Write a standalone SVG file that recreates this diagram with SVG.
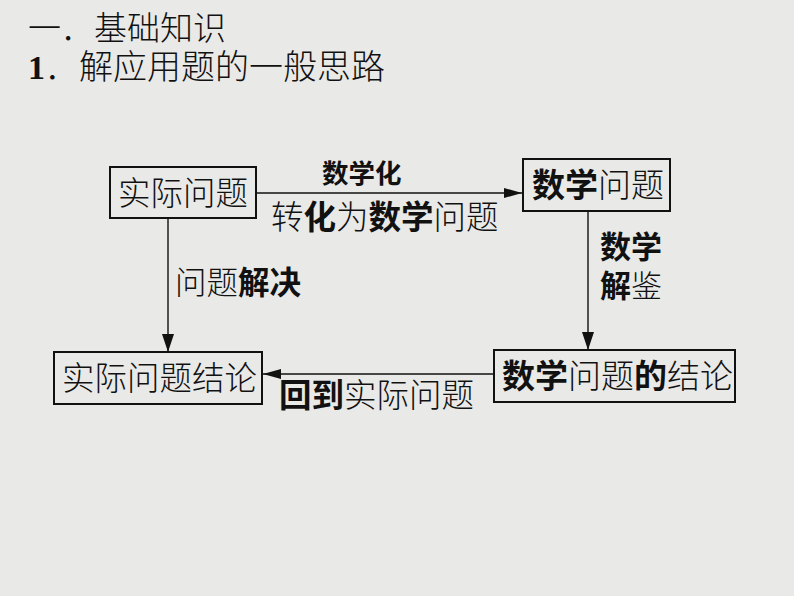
<svg xmlns="http://www.w3.org/2000/svg" width="794" height="596" viewBox="0 0 794 596">
<defs>
<style>
.t{font-family:"Noto Sans CJK SC","Noto Sans",sans-serif;fill:#111;font-weight:300}
.b{font-weight:700}
.box{fill:none;stroke:#111;stroke-width:2}
.ln{stroke:#111;stroke-width:1.4;fill:none}
</style>
<marker id="ah" markerWidth="18" markerHeight="10" refX="18" refY="5" orient="auto" markerUnits="userSpaceOnUse">
<path d="M0,0 L18,5 L0,10 Z" fill="#111"/>
</marker>
<marker id="av" markerWidth="18" markerHeight="12" refX="18" refY="6" orient="auto" markerUnits="userSpaceOnUse">
<path d="M0,0 L18,6 L0,12 Z" fill="#111"/>
</marker>
</defs>
<rect width="794" height="596" fill="#e9e9e7"/>
<g id="title">
<text class="t" x="28" y="40" font-size="33">一．基础知识</text>
<text class="t" x="28" y="79" font-size="34"><tspan font-family="Liberation Serif" font-weight="700">1</tspan>．解应用题的一般思路</text>
</g>
<g id="connectors">
<line class="ln" x1="256" y1="193" x2="522" y2="193" marker-end="url(#ah)"/>
<line class="ln" x1="588" y1="211" x2="588" y2="350" marker-end="url(#av)"/>
<line class="ln" x1="494" y1="374" x2="263" y2="374" marker-end="url(#ah)"/>
<line class="ln" x1="168" y1="218" x2="168" y2="352" marker-end="url(#av)"/>
<text class="t" x="322" y="183" font-size="26.5"><tspan class="b">数学化</tspan></text>
<text class="t" x="271" y="229" font-size="32.5">转<tspan class="b">化</tspan>为<tspan class="b">数学</tspan>问题</text>
<text class="t" x="600" y="258" font-size="31"><tspan class="b">数学</tspan></text>
<text class="t" x="600" y="297" font-size="31"><tspan class="b">解</tspan>鉴</text>
<text class="t" x="175" y="294" font-size="31.5">问题<tspan class="b">解决</tspan></text>
<text class="t" x="279" y="407" font-size="32.5"><tspan class="b">回到</tspan>实际问题</text>
</g>
<g id="n1">
<rect class="box" x="110" y="167" width="146" height="51"/>
<text class="t" x="118" y="205" font-size="32.5">实际问题</text>
</g>
<g id="n2">
<rect class="box" x="523" y="159" width="147" height="52"/>
<text class="t" x="532" y="197" font-size="33">
<tspan class="b">数学</tspan>问题</text>
</g>
<g id="n3">
<rect class="box" x="494" y="350" width="241" height="52"/>
<text class="t" x="502" y="388" font-size="33"><tspan class="b">数学</tspan>问题<tspan class="b">的</tspan>结论</text>
</g>
<g id="n4">
<rect class="box" x="54" y="352" width="208" height="52"/>
<text class="t" x="62" y="390" font-size="32.5">实际问题结论</text>
</g>
</svg>
